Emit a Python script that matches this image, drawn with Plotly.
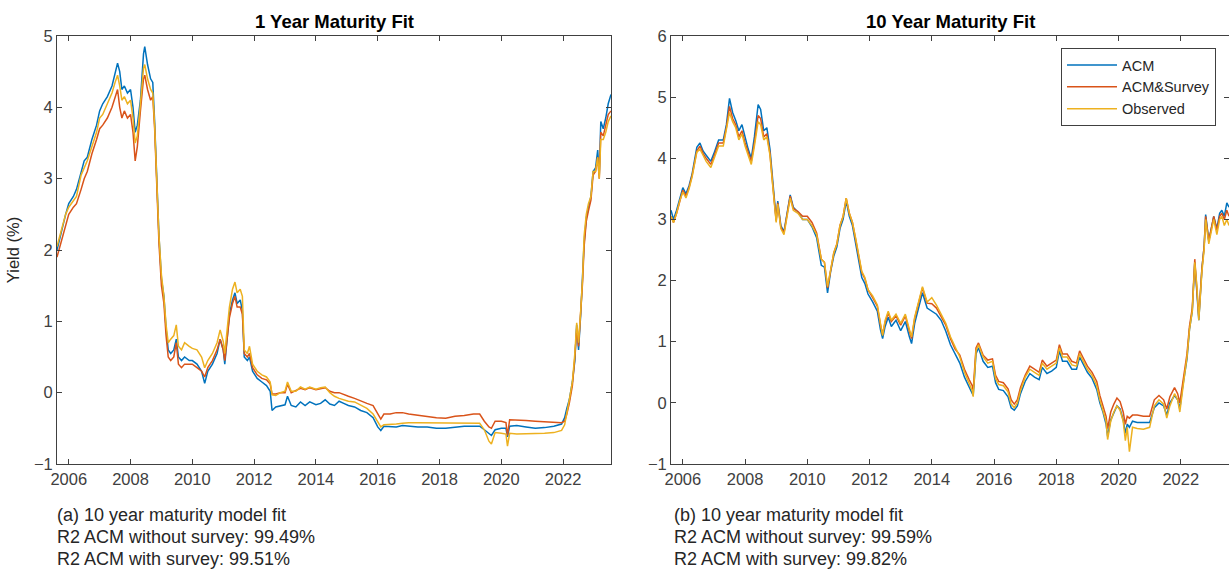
import plotly.graph_objects as go

W, H = 1229, 572
FONT = "Liberation Sans, Arial, Helvetica, sans-serif"
BLUE, ORANGE, YELLOW = "#0072BD", "#D95319", "#EDB120"
AXC = "#404040"

# ---------------- 1 year maturity (left panel) ----------------
t1 = [2005.62, 2005.75, 2005.9, 2006.0, 2006.15, 2006.25, 2006.4, 2006.5, 2006.6, 2006.75,
      2006.9, 2007.0, 2007.1, 2007.25, 2007.4, 2007.5, 2007.58, 2007.65, 2007.72, 2007.8,
      2007.9, 2008.0, 2008.08, 2008.15, 2008.22, 2008.32, 2008.42, 2008.46, 2008.55, 2008.65,
      2008.72, 2008.78, 2008.85, 2008.92, 2009.0, 2009.08, 2009.15, 2009.22, 2009.3, 2009.4,
      2009.48, 2009.55, 2009.65, 2009.75, 2009.9, 2010.0, 2010.15, 2010.3, 2010.4, 2010.5,
      2010.65, 2010.8, 2010.9, 2011.0, 2011.05, 2011.12, 2011.2, 2011.3, 2011.38, 2011.45,
      2011.55, 2011.62, 2011.68, 2011.78, 2011.85, 2011.95, 2012.1, 2012.25, 2012.4, 2012.52,
      2012.58, 2012.7, 2012.85, 2013.0, 2013.08, 2013.2, 2013.35, 2013.5, 2013.65, 2013.8,
      2014.0, 2014.15, 2014.3, 2014.45, 2014.6, 2014.75, 2014.9, 2015.05, 2015.25, 2015.45,
      2015.65, 2015.85, 2016.0, 2016.1, 2016.2, 2016.4, 2016.6, 2016.8, 2017.0, 2017.3,
      2017.6, 2017.9, 2018.2, 2018.5, 2018.8, 2019.1, 2019.3, 2019.45, 2019.6, 2019.68,
      2019.8, 2020.0, 2020.15, 2020.2, 2020.27, 2020.5, 2020.8, 2021.1, 2021.4, 2021.7,
      2021.95, 2022.05, 2022.12, 2022.2, 2022.3, 2022.38, 2022.44, 2022.5, 2022.57, 2022.63,
      2022.68, 2022.75, 2022.82, 2022.9, 2022.97, 2023.05, 2023.12, 2023.17, 2023.22, 2023.3,
      2023.38, 2023.46, 2023.55]

acm_1y = [2.00, 2.25, 2.5, 2.65, 2.75, 2.85, 3.1, 3.25, 3.3, 3.55,
          3.75, 3.95, 4.05, 4.15, 4.3, 4.5, 4.62, 4.5, 4.25, 4.3,
          4.2, 4.25, 4.0, 3.65, 3.75, 4.1, 4.75, 4.85, 4.6, 4.4,
          4.35, 3.8, 3.0, 2.2, 1.6, 1.35, 0.9, 0.6, 0.55, 0.6,
          0.75, 0.5, 0.45, 0.5, 0.45, 0.45, 0.4, 0.3, 0.13, 0.3,
          0.4, 0.55, 0.75, 0.6, 0.4, 0.75, 1.1, 1.3, 1.4, 1.25,
          1.3, 1.15, 0.5, 0.45, 0.5, 0.3, 0.2, 0.15, 0.1, 0.02,
          -0.25, -0.2, -0.18, -0.17, -0.05, -0.18, -0.2, -0.13, -0.18, -0.13,
          -0.17, -0.15, -0.1, -0.16, -0.18, -0.12, -0.15, -0.18, -0.2, -0.25,
          -0.28, -0.35, -0.48, -0.53, -0.47, -0.47, -0.48, -0.46, -0.47, -0.48,
          -0.48, -0.5, -0.5, -0.48, -0.47, -0.47, -0.47, -0.52, -0.58, -0.6,
          -0.52, -0.5, -0.5, -0.62, -0.47, -0.46, -0.48, -0.5, -0.49, -0.47,
          -0.44, -0.35, -0.22, -0.1, 0.15, 0.45, 0.95, 0.6, 1.1, 1.6,
          2.1, 2.45, 2.6, 2.75, 3.1, 3.15, 3.4, 3.05, 3.8, 3.7,
          3.85, 4.05, 4.18]

survey_1y = [1.90, 2.10, 2.35, 2.5, 2.6, 2.65, 2.85, 3.0, 3.1, 3.35,
             3.55, 3.7, 3.75, 3.85, 4.0, 4.15, 4.25, 4.0, 3.85, 3.95,
             3.85, 3.9, 3.65, 3.25, 3.45, 3.95, 4.4, 4.45, 4.25, 4.1,
             4.15, 3.7, 2.9, 2.1, 1.5, 1.25, 0.8, 0.5, 0.45, 0.5,
             0.7, 0.4, 0.35, 0.4, 0.4, 0.4, 0.35, 0.3, 0.22, 0.35,
             0.45, 0.6, 0.75, 0.6, 0.45, 0.75, 1.05, 1.25, 1.35, 1.2,
             1.2, 1.1, 0.55, 0.5, 0.55, 0.35, 0.25, 0.2, 0.18, 0.12,
             -0.02, -0.02, 0.0, 0.0, 0.12, 0.0, 0.03, 0.06, 0.04, 0.07,
             0.04, 0.05, 0.07, 0.02, 0.0, 0.0, -0.03, -0.05, -0.08, -0.12,
             -0.15, -0.18, -0.3, -0.37, -0.3, -0.3, -0.28, -0.28, -0.3, -0.32,
             -0.33, -0.35, -0.36, -0.33, -0.32, -0.3, -0.3, -0.4, -0.48, -0.5,
             -0.4, -0.4, -0.42, -0.6, -0.38, -0.38, -0.39, -0.4, -0.41, -0.42,
             -0.42, -0.4, -0.3, -0.15, 0.1, 0.5, 0.9, 0.65, 1.1, 1.55,
             2.05, 2.4, 2.55, 2.7, 3.05, 3.1, 3.3, 3.0, 3.65, 3.6,
             3.75, 3.9, 3.95]

obs_1y = [2.05, 2.25, 2.5, 2.6, 2.7, 2.75, 3.05, 3.15, 3.25, 3.45,
          3.65, 3.85, 3.9, 4.05, 4.2, 4.35, 4.45, 4.3, 4.1, 4.15,
          4.05, 4.1, 3.85, 3.5, 3.6, 4.05, 4.55, 4.6, 4.4, 4.25,
          4.2, 3.75, 3.0, 2.2, 1.65, 1.35, 0.95, 0.7, 0.75, 0.8,
          0.95, 0.65, 0.6, 0.7, 0.65, 0.62, 0.6, 0.5, 0.35, 0.45,
          0.55, 0.7, 0.88, 0.72, 0.55, 0.85, 1.2, 1.45, 1.55, 1.4,
          1.45, 1.35, 0.6, 0.55, 0.65, 0.4, 0.3, 0.25, 0.22, 0.15,
          -0.03, -0.04, 0.0, 0.02, 0.15, 0.02, 0.02, 0.08, 0.05, 0.08,
          0.05, 0.07, 0.08, 0.0, -0.05, -0.08, -0.1, -0.12, -0.13, -0.18,
          -0.22, -0.3, -0.42, -0.48, -0.45, -0.45, -0.44, -0.43, -0.42, -0.42,
          -0.42, -0.43, -0.42, -0.42, -0.42, -0.42, -0.43, -0.52, -0.68, -0.72,
          -0.56, -0.57, -0.58, -0.75, -0.57, -0.58, -0.58, -0.58, -0.57, -0.56,
          -0.53, -0.45, -0.3, -0.1, 0.15, 0.55, 0.98, 0.7, 1.15, 1.6,
          2.2, 2.5, 2.65, 2.75, 3.1, 3.1, 3.3, 3.0, 3.55, 3.55,
          3.65, 3.8, 3.88]

# ---------------- 10 year maturity (right panel) ----------------
t10 = [2005.62, 2005.7, 2005.8, 2005.9, 2006.0, 2006.1, 2006.2, 2006.3, 2006.45, 2006.55,
       2006.65, 2006.75, 2006.9, 2007.0, 2007.15, 2007.3, 2007.4, 2007.5, 2007.6, 2007.7,
       2007.8, 2007.9, 2008.0, 2008.1, 2008.2, 2008.3, 2008.42, 2008.5, 2008.6, 2008.7,
       2008.8, 2008.88, 2008.95, 2009.0, 2009.05, 2009.15, 2009.25, 2009.35, 2009.45, 2009.55,
       2009.7, 2009.85, 2010.0, 2010.15, 2010.3, 2010.45, 2010.55, 2010.65, 2010.75, 2010.85,
       2010.95, 2011.05, 2011.15, 2011.25, 2011.35, 2011.45, 2011.55, 2011.65, 2011.75, 2011.85,
       2011.95, 2012.1, 2012.25, 2012.35, 2012.42, 2012.5, 2012.6, 2012.7, 2012.85, 2013.0,
       2013.15, 2013.28, 2013.35, 2013.45, 2013.55, 2013.7, 2013.85, 2014.0, 2014.15, 2014.3,
       2014.45, 2014.6, 2014.75, 2014.9, 2015.05, 2015.2, 2015.3, 2015.33, 2015.37, 2015.42,
       2015.5, 2015.65, 2015.8, 2015.95, 2016.05, 2016.15, 2016.3, 2016.45, 2016.55, 2016.65,
       2016.75, 2016.85, 2017.0, 2017.15, 2017.3, 2017.45, 2017.55, 2017.7, 2017.85, 2018.0,
       2018.1, 2018.2, 2018.35, 2018.5, 2018.65, 2018.75, 2018.85, 2019.0, 2019.15, 2019.3,
       2019.4, 2019.5, 2019.6, 2019.65, 2019.75, 2019.85, 2019.95, 2020.05, 2020.15, 2020.22,
       2020.28, 2020.35, 2020.45, 2020.6, 2020.8, 2021.0, 2021.15, 2021.3, 2021.45, 2021.55,
       2021.65, 2021.8, 2021.9, 2021.97, 2022.05, 2022.12, 2022.2, 2022.28, 2022.37, 2022.45,
       2022.52, 2022.58, 2022.68, 2022.75, 2022.8, 2022.9, 2023.0, 2023.06, 2023.16, 2023.25,
       2023.32, 2023.4, 2023.48, 2023.55]

acm_10y = [3.15, 3.0, 3.15, 3.35, 3.52, 3.42, 3.55, 3.75, 4.18, 4.25,
           4.12, 4.05, 3.95, 4.08, 4.3, 4.3, 4.55, 4.98, 4.75, 4.62,
           4.45, 4.55, 4.35, 4.15, 4.0, 4.35, 4.88, 4.8, 4.45, 4.5,
           4.15, 3.7, 3.28, 3.0, 3.3, 2.9, 2.8, 3.1, 3.4, 3.2,
           3.12, 3.0, 3.0, 2.88, 2.7, 2.25, 2.22, 1.8, 2.15, 2.4,
           2.55, 2.85, 3.0, 3.3, 3.05, 2.9, 2.62, 2.3, 2.05, 1.95,
           1.78, 1.65, 1.5, 1.2, 1.05, 1.25, 1.4, 1.25, 1.35, 1.18,
           1.33, 1.08, 0.97, 1.3, 1.52, 1.8, 1.55, 1.5, 1.45, 1.35,
           1.17, 0.95, 0.8, 0.65, 0.42, 0.25, 0.15, 0.12, 0.4, 0.8,
           0.9, 0.68, 0.58, 0.6, 0.33, 0.22, 0.2, 0.1, -0.08, -0.12,
           -0.05, 0.15, 0.35, 0.48, 0.42, 0.38, 0.58, 0.48, 0.52, 0.58,
           0.85, 0.68, 0.68, 0.55, 0.55, 0.75, 0.65, 0.5, 0.4, 0.22,
           0.0, -0.15, -0.35, -0.55, -0.28, -0.15, -0.05, -0.1, -0.28, -0.5,
           -0.35, -0.4, -0.3, -0.32, -0.32, -0.32, -0.08, 0.0, -0.05, -0.2,
           0.0, 0.12, 0.05, -0.1, 0.22, 0.45, 0.72, 1.2, 1.5, 2.3,
           1.85, 1.35, 2.2, 2.55, 3.08, 2.65, 2.9, 3.05, 2.85, 3.1,
           3.15, 3.05, 3.27, 3.2]

survey_10y = [3.05, 2.95, 3.1, 3.3, 3.48, 3.38, 3.52, 3.72, 4.12, 4.2,
              4.08, 4.0, 3.9, 4.03, 4.25, 4.25, 4.5, 4.85, 4.65, 4.55,
              4.35, 4.45, 4.25, 4.1, 3.95, 4.25, 4.7, 4.65, 4.35, 4.4,
              4.08, 3.62, 3.22, 2.97, 3.27, 2.87, 2.78, 3.08, 3.38, 3.18,
              3.13, 3.05, 3.05, 2.95, 2.78, 2.35, 2.3, 1.88, 2.2, 2.45,
              2.6, 2.9, 3.05, 3.35, 3.1, 2.95, 2.68, 2.38, 2.13, 2.03,
              1.85, 1.72, 1.58, 1.28, 1.12, 1.32, 1.47, 1.33, 1.42, 1.27,
              1.42, 1.17, 1.05, 1.38, 1.6, 1.88, 1.63, 1.62, 1.55, 1.42,
              1.27, 1.05, 0.88, 0.78, 0.55, 0.38, 0.28, 0.2, 0.5, 0.9,
              0.98, 0.78, 0.7, 0.72, 0.45, 0.35, 0.33, 0.23, 0.05, -0.02,
              0.05, 0.25, 0.45, 0.6, 0.55, 0.5, 0.7, 0.6, 0.65, 0.7,
              0.95, 0.8, 0.8, 0.68, 0.65, 0.85, 0.75, 0.6, 0.5, 0.35,
              0.12, -0.05, -0.22, -0.42, -0.15, -0.02, 0.08, 0.02, -0.15, -0.35,
              -0.22, -0.25, -0.2, -0.2, -0.22, -0.22, 0.05, 0.12, 0.05, -0.1,
              0.1, 0.25, 0.15, 0.0, 0.3, 0.55, 0.8, 1.25, 1.55, 2.35,
              1.9, 1.4, 2.2, 2.55, 3.05, 2.65, 2.9, 3.05, 2.82, 3.05,
              3.1, 3.0, 3.15, 3.05]

obs_10y = [3.05, 2.95, 3.1, 3.3, 3.45, 3.35, 3.5, 3.7, 4.1, 4.15,
           4.05, 3.95, 3.85, 4.0, 4.2, 4.2, 4.45, 4.75, 4.6, 4.5,
           4.3, 4.4, 4.2, 4.05, 3.9, 4.2, 4.6, 4.55, 4.3, 4.35,
           4.05, 3.6, 3.2, 2.95, 3.25, 2.85, 2.75, 3.05, 3.35, 3.15,
           3.1, 3.0, 3.0, 2.9, 2.75, 2.35, 2.3, 1.9, 2.2, 2.45,
           2.6, 2.9, 3.05, 3.35, 3.1, 2.95, 2.7, 2.4, 2.15, 2.05,
           1.85, 1.75, 1.6, 1.3, 1.1, 1.35, 1.5, 1.35, 1.45, 1.3,
           1.45, 1.2, 1.08, 1.4, 1.62, 1.9, 1.65, 1.72, 1.6, 1.45,
           1.3, 1.08, 0.9, 0.75, 0.5, 0.33, 0.2, 0.1, 0.45, 0.85,
           0.95, 0.75, 0.65, 0.68, 0.4, 0.3, 0.28, 0.18, -0.02, -0.08,
           0.0, 0.2, 0.42, 0.55, 0.5, 0.45, 0.65, 0.55, 0.6, 0.65,
           0.9, 0.75, 0.75, 0.62, 0.6, 0.8, 0.7, 0.55, 0.45, 0.28,
           0.05, -0.12, -0.3, -0.6, -0.3, -0.15, -0.05, -0.12, -0.3, -0.62,
           -0.4, -0.8, -0.4, -0.42, -0.43, -0.4, -0.05, 0.05, -0.02, -0.25,
           -0.05, 0.15, 0.05, -0.15, 0.2, 0.45, 0.75, 1.2, 1.5, 2.3,
           1.9, 1.35, 2.15, 2.5, 3.0, 2.6, 2.85, 3.0, 2.75, 3.0,
           3.05, 2.9, 3.0, 2.9]

series_names = ["ACM", "ACM&Survey", "Observed"]
series_colors = [BLUE, ORANGE, YELLOW]

year_ticks = [2006, 2008, 2010, 2012, 2014, 2016, 2018, 2020, 2022]
year_labels = [str(y) for y in year_ticks]
y1_ticks = [-1, 0, 1, 2, 3, 4, 5]
y10_ticks = [-1, 0, 1, 2, 3, 4, 5, 6]
x_range = [2005.62, 2023.55]

titles = ["1 Year Maturity Fit", "10 Year Maturity Fit"]
captions_left = ["(a) 10 year maturity model fit",
                 "R2 ACM without survey: 99.49%",
                 "R2 ACM with survey: 99.51%"]
captions_right = ["(b) 10 year maturity model fit",
                  "R2 ACM without survey: 99.59%",
                  "R2 ACM with survey: 99.82%"]

fig = go.Figure()
for name, vals, col in zip(series_names, [acm_1y, survey_1y, obs_1y], series_colors):
    fig.add_trace(go.Scatter(x=t1, y=vals, mode="lines", name=name, showlegend=False,
                             line=dict(color=col, width=1.5), xaxis="x", yaxis="y"))
for name, vals, col in zip(series_names, [acm_10y, survey_10y, obs_10y], series_colors):
    fig.add_trace(go.Scatter(x=t10, y=vals, mode="lines", name=name, showlegend=True,
                             line=dict(color=col, width=1.5), xaxis="x2", yaxis="y2"))

tickfont = dict(family=FONT, size=16.5, color=AXC)
common = dict(showline=True, linecolor=AXC, linewidth=1, mirror="allticks",
              ticks="inside", ticklen=5, tickwidth=1, tickcolor=AXC,
              showgrid=False, zeroline=False, tickfont=tickfont, automargin=False)

ydom = [1 - 464 / H, 1 - 36 / H]
xdom1 = [57 / W, 611 / W]
xdom2 = [671 / W, 1.0]

fig.update_layout(
    template="none",
    width=W, height=H, autosize=False,
    margin=dict(l=0, r=0, t=0, b=0, pad=0),
    paper_bgcolor="white", plot_bgcolor="white",
    font=dict(family=FONT, color="#262626"),
    xaxis=dict(domain=xdom1, range=x_range, anchor="y", tickvals=year_ticks,
               ticktext=year_labels, **common),
    yaxis=dict(domain=ydom, range=[-1, 5], anchor="x", tickvals=y1_ticks,
               title=dict(text="Yield (%)", font=dict(family=FONT, size=16.5, color="#262626"),
                          standoff=10),
               **common),
    xaxis2=dict(domain=xdom2, range=x_range, anchor="y2", tickvals=year_ticks,
                ticktext=year_labels, **common),
    yaxis2=dict(domain=ydom, range=[-1, 6], anchor="x2", tickvals=y10_ticks, **common),
    legend=dict(x=1216 / W, xanchor="right", y=1 - 48 / H, yanchor="top",
                bgcolor="white", bordercolor=AXC, borderwidth=1,
                font=dict(family=FONT, size=14.5, color="#262626"),
                tracegroupgap=0, itemwidth=50),
    showlegend=True,
)

annotations = []
for title, dom in zip(titles, [xdom1, xdom2]):
    annotations.append(dict(text="<b>" + title + "</b>", x=(dom[0] + dom[1]) / 2, y=1 - 22 / H,
                            xref="paper", yref="paper", xanchor="center", yanchor="middle",
                            showarrow=False, font=dict(family=FONT, size=18.5, color="black")))
for caps, x0 in [(captions_left, 55), (captions_right, 672)]:
    for i, c in enumerate(caps):
        annotations.append(dict(text=c, x=x0 / W, y=1 - (515 + 22 * i) / H,
                                xref="paper", yref="paper", xanchor="left", yanchor="middle",
                                showarrow=False, font=dict(family=FONT, size=18, color="#262626")))
fig.update_layout(annotations=annotations)

fig.write_html("out.html",
               config={"displayModeBar": False, "staticPlot": True},
               post_script="document.body.style.margin='0';document.body.style.overflow='hidden';")
